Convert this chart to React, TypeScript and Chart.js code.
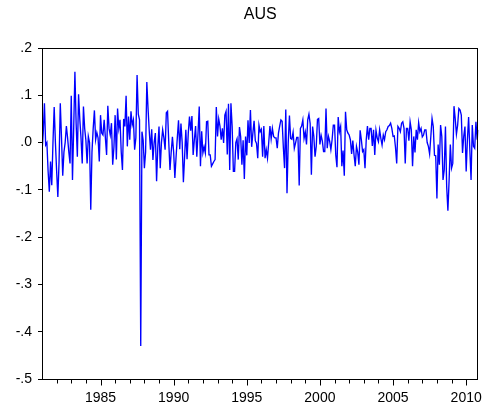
import { useEffect, useRef } from 'react';
import { Chart, registerables } from 'chart.js';

Chart.register(...registerables);

// Monthly returns, AUS, starting January 1981
const seriesName = 'AUS';
const startYear = 1981;

const aus1981to1985 = [
  -0.02, 0.02, 0.083, -0.005, 0.0, -0.06, -0.104, -0.04, -0.09, 0.0, 0.075, 0.0,
  -0.06, -0.115, -0.04, 0.083, 0.01, -0.07, -0.02, 0.0, 0.035, 0.01, -0.02, -0.044,
  0.099, -0.079, 0.03, 0.15, 0.04, -0.03, 0.102, 0.05, 0.01, -0.044, 0.076, 0.03,
  0.005, -0.044, 0.013, 0.0, -0.142, -0.02, 0.03, 0.068, 0.006, 0.021, 0.01, -0.04,
  0.058, 0.02, 0.016, 0.048, 0.01, -0.026, 0.078, 0.03, 0.016, 0.041, -0.047, -0.01,
];
const aus1986to1990 = [
  0.058, -0.036, 0.072, 0.03, 0.048, -0.02, -0.058, 0.05, 0.034, 0.099, -0.008, 0.055,
  0.006, 0.066, 0.037, 0.048, -0.015, 0.01, 0.143, 0.06, 0.048, -0.43, 0.023, 0.005,
  -0.054, -0.02, 0.128, 0.072, 0.024, -0.015, 0.028, -0.037, 0.0, 0.02, -0.082, -0.01,
  0.034, -0.054, 0.0, 0.027, 0.01, -0.015, 0.063, 0.066, 0.0, -0.058, -0.02, 0.012,
  -0.02, -0.075, -0.03, 0.01, 0.047, -0.014, 0.04, 0.0, -0.084, -0.03, 0.027, -0.035,
];
const aus1991to1995 = [
  0.02, 0.055, 0.025, 0.056, -0.026, 0.006, 0.035, -0.03, 0.02, 0.076, -0.05, 0.024,
  -0.022, -0.009, -0.022, 0.044, 0.045, -0.026, -0.026, -0.05, -0.045, -0.04, -0.036, 0.075,
  0.013, 0.05, 0.035, 0.006, 0.03, -0.001, 0.058, 0.066, -0.025, 0.082, -0.058, 0.083,
  0.034, -0.061, -0.061, 0.0, 0.008, -0.036, 0.033, 0.012, -0.047, 0.005, -0.077, 0.013,
  -0.027, 0.047, -0.001, 0.069, -0.009, 0.02, 0.046, 0.004, -0.002, -0.033, 0.037, 0.023,
];
const aus1996to2000 = [
  0.028, -0.03, 0.035, -0.033, -0.015, -0.033, 0.0, 0.035, 0.008, 0.03, 0.013, 0.01,
  0.01, -0.012, 0.02, 0.035, 0.048, 0.045, -0.01, -0.054, 0.07, -0.107, -0.001, 0.057,
  0.009, 0.007, 0.022, -0.012, -0.001, 0.011, 0.011, -0.091, 0.03, 0.035, 0.048, 0.009,
  0.022, -0.004, 0.048, 0.06, 0.04, -0.068, 0.034, 0.013, -0.03, -0.008, 0.049, 0.051,
  -0.004, 0.015, 0.003, -0.019, -0.019, 0.072, -0.012, 0.013, 0.003, -0.015, 0.006, 0.037,
];
const aus2001to2005 = [
  0.037, -0.026, -0.052, 0.054, 0.023, 0.034, -0.05, -0.017, -0.07, 0.065, 0.027, 0.02,
  0.016, 0.006, -0.024, 0.004, -0.026, -0.05, -0.008, -0.02, -0.047, 0.026, 0.006, -0.019,
  -0.015, -0.054, 0.006, 0.035, 0.006, 0.03, 0.03, -0.007, 0.027, -0.026, 0.026, 0.01,
  0.002, 0.027, 0.009, -0.005, 0.016, 0.006, 0.023, 0.027, 0.034, 0.036, 0.041, 0.03,
  0.013, 0.014, -0.01, -0.044, 0.034, 0.03, 0.023, 0.041, 0.044, 0.03, -0.044, 0.03,
];
const aus2006to2010 = [
  0.03, 0.004, 0.044, 0.027, -0.05, 0.013, -0.021, 0.027, 0.006, 0.042, 0.023, 0.03,
  0.012, 0.016, 0.027, 0.027, 0.0, -0.008, -0.024, 0.013, 0.051, 0.034, -0.027, -0.028,
  -0.118, -0.004, -0.047, 0.037, 0.013, -0.079, -0.058, 0.034, -0.093, -0.144, -0.079, -0.004,
  -0.054, -0.044, 0.077, 0.051, 0.018, 0.037, 0.072, 0.069, 0.058, -0.022, 0.013, 0.034,
  -0.061, 0.006, 0.054, -0.015, -0.079, 0.037, -0.008, -0.012, 0.044, 0.006, 0.027,
];

const yTickValues = [-0.5, -0.4, -0.3, -0.2, -0.1, 0, 0.1, 0.2];
const yTickLabels = ['-.5', '-.4', '-.3', '-.2', '-.1', '.0', '.1', '.2'];
const xLabelYears = [1985, 1990, 1995, 2000, 2005, 2010];
const firstMinorYear = 1982;
const lastMinorYear = 2010;

const FONT = 'Arial, "Liberation Sans", sans-serif';

const returns = [
  ...aus1981to1985,
  ...aus1986to1990,
  ...aus1991to1995,
  ...aus1996to2000,
  ...aus2001to2005,
  ...aus2006to2010,
];

const minorYears: number[] = [];
for (let y = firstMinorYear; y <= lastMinorYear; y++) minorYears.push(y);

// Frame around the plot, year ticks under it and the title on top
const framePlugin = {
  id: 'eviewsFrame',
  afterDraw(chart: any) {
    const { ctx, chartArea: a } = chart;
    const xs = chart.scales.x;
    ctx.save();
    ctx.strokeStyle = '#000';
    ctx.lineWidth = 1;
    const L = Math.round(a.left) + 0.5;
    const R = Math.round(a.right) - 0.5;
    const T = Math.round(a.top) + 0.5;
    const B = Math.round(a.bottom) + 0.5;
    ctx.strokeRect(L, T, R - L, B - T);
    ctx.beginPath();
    for (const yr of minorYears) {
      const px = Math.round(xs.getPixelForValue(yr)) + 0.5;
      const len = xLabelYears.includes(yr) ? 6 : 4;
      ctx.moveTo(px, B);
      ctx.lineTo(px, B + len);
    }
    ctx.stroke();
    ctx.fillStyle = '#000';
    ctx.font = `16px ${FONT}`;
    ctx.textAlign = 'center';
    ctx.textBaseline = 'middle';
    ctx.fillText(seriesName, (a.left + a.right) / 2, 15);
    ctx.restore();
  },
};

export default function App() {
  const canvasRef = useRef<HTMLCanvasElement | null>(null);

  useEffect(() => {
    const canvas = canvasRef.current;
    if (!canvas) return;
    const points = returns.map((v, i) => ({ x: startYear + i / 12, y: v }));
    const chart = new Chart(canvas, {
      type: 'line',
      data: {
        datasets: [
          {
            label: seriesName,
            data: points,
            borderColor: '#0000FF',
            borderWidth: 1.35,
            pointRadius: 0,
            tension: 0,
            fill: false,
          },
        ],
      },
      options: {
        responsive: false,
        animation: false,
        devicePixelRatio: 1,
        events: [],
        layout: { padding: { top: 48, right: 9, left: 0, bottom: 0 } },
        plugins: {
          legend: { display: false },
          title: { display: false },
          tooltip: { enabled: false },
        },
        scales: {
          x: {
            type: 'linear',
            min: startYear,
            max: startYear + (returns.length - 1) / 12,
            afterBuildTicks: (scale: any) => {
              scale.ticks = minorYears.map((v) => ({ value: v }));
            },
            afterFit: (scale: any) => {
              scale.height = 33;
            },
            border: { display: false },
            grid: { display: false, drawTicks: false, tickLength: 0 },
            ticks: {
              autoSkip: false,
              maxRotation: 0,
              minRotation: 0,
              padding: 11,
              color: '#000',
              font: { family: FONT, size: 14 },
              callback: (v: any) => (xLabelYears.includes(Number(v)) ? String(v) : ''),
            },
          },
          y: {
            type: 'linear',
            min: -0.5,
            max: 0.2,
            afterBuildTicks: (scale: any) => {
              scale.ticks = yTickValues.map((v) => ({ value: v }));
            },
            afterFit: (scale: any) => {
              scale.width = 42;
            },
            border: { display: false },
            grid: {
              display: true,
              drawOnChartArea: false,
              drawTicks: true,
              tickLength: 4,
              tickColor: '#000',
              tickWidth: 1,
            },
            ticks: {
              padding: 6,
              color: '#000',
              font: { family: FONT, size: 14 },
              callback: (v: any) => {
                const i = yTickValues.findIndex((t) => Math.abs(t - Number(v)) < 1e-9);
                return i >= 0 ? yTickLabels[i] : '';
              },
            },
          },
        },
      },
      plugins: [framePlugin],
    });
    return () => chart.destroy();
  }, []);

  return (
    <div style={{ position: 'fixed', left: 0, top: 0, width: 493, height: 412, background: '#fff' }}>
      <canvas ref={canvasRef} width={493} height={412} style={{ display: 'block' }} />
    </div>
  );
}
